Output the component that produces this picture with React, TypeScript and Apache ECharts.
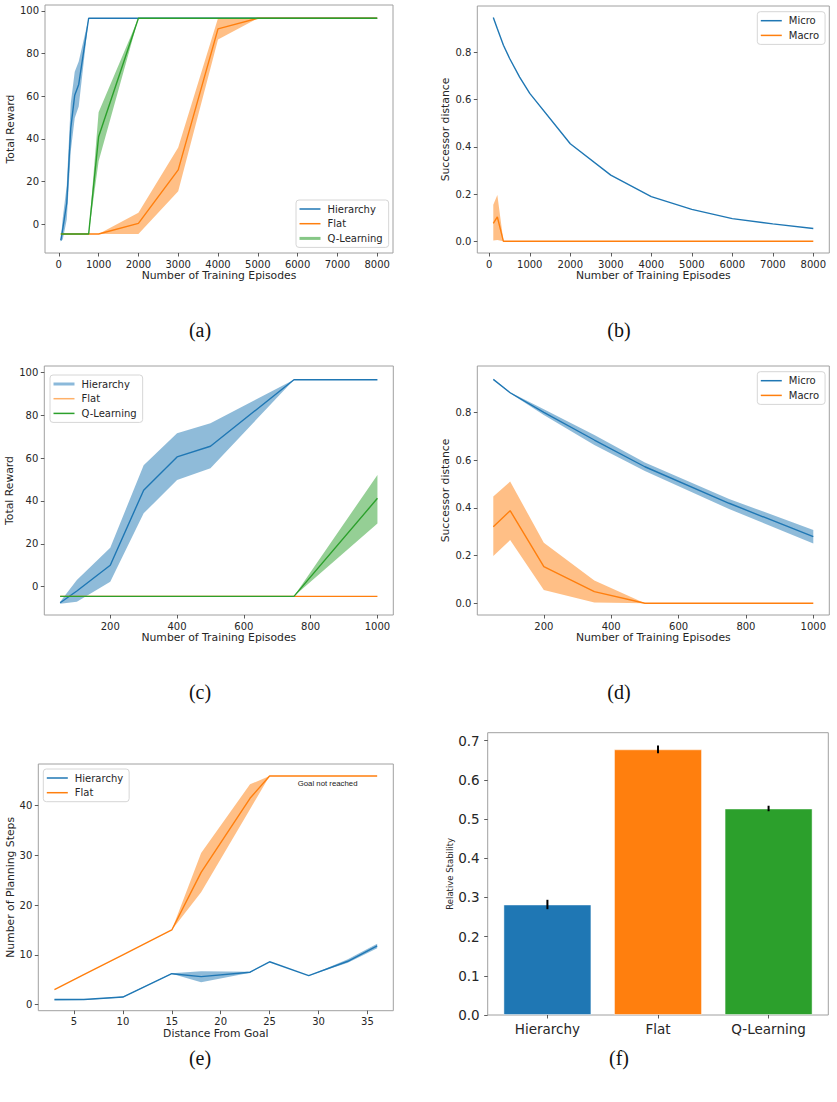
import React, { useEffect, useRef } from 'react';
import * as echarts from 'echarts';

// ---- palette ----
const BLUE = '#1f77b4';
const ORANGE = '#ff7f0e';
const GREEN = '#2ca02c';
const BLUE_FILL = 'rgba(31,119,180,0.5)';
const ORANGE_FILL = 'rgba(255,127,14,0.5)';
const GREEN_FILL = 'rgba(44,160,44,0.5)';

// ---- (a) total reward, long training ----
const aEpisodes = [50, 100, 200, 300, 400, 500, 750, 1000, 2000, 3000, 4000, 5000, 6000, 7000, 8000];
const aHier = [-7.5, -2, 10, 45, 60.5, 65.5, 96.5, 96.5, 96.5, 96.5, 96.5, 96.5, 96.5, 96.5, 96.5];
const aHierLo = [-8, -7, 2.3, 34.2, 49.8, 55.2, 96.5, 96.5, 96.5, 96.5, 96.5, 96.5, 96.5, 96.5, 96.5];
const aHierHi = [-7, 3.1, 18.2, 56.6, 71.5, 76.2, 96.5, 96.5, 96.5, 96.5, 96.5, 96.5, 96.5, 96.5, 96.5];
const aFlat = [-4.5, -4.5, -4.5, -4.5, -4.5, -4.5, -4.5, -4.5, 0.5, 25.5, 91.5, 96.5, 96.5, 96.5, 96.5];
const aFlatLo = [-4.5, -4.5, -4.5, -4.5, -4.5, -4.5, -4.5, -4.5, -4.5, 15.5, 86.5, 96.5, 96.5, 96.5, 96.5];
const aFlatHi = [-4.5, -4.5, -4.5, -4.5, -4.5, -4.5, -4.5, -4.5, 5.5, 36, 96.5, 96.5, 96.5, 96.5, 96.5];
const aQ = [-4.5, -4.5, -4.5, -4.5, -4.5, -4.5, -4.5, 41, 96.5, 96.5, 96.5, 96.5, 96.5, 96.5, 96.5];
const aQLo = [-4.5, -4.5, -4.5, -4.5, -4.5, -4.5, -4.5, 29.5, 96.5, 96.5, 96.5, 96.5, 96.5, 96.5, 96.5];
const aQHi = [-4.5, -4.5, -4.5, -4.5, -4.5, -4.5, -4.5, 52.5, 96.5, 96.5, 96.5, 96.5, 96.5, 96.5, 96.5];

// ---- (b) successor distance, long training ----
const bEpisodes = [100, 200, 350, 500, 750, 1000, 2000, 3000, 4000, 5000, 6000, 7000, 8000];
const bMicro = [0.947, 0.9, 0.83, 0.775, 0.695, 0.626, 0.413, 0.28, 0.189, 0.135, 0.096, 0.074, 0.054];
const bMacro = [0.076, 0.103, 0, 0, 0, 0, 0, 0, 0, 0, 0, 0, 0];
const bMacroLo = [0.003, 0.005, 0, 0, 0, 0, 0, 0, 0, 0, 0, 0, 0];
const bMacroHi = [0.155, 0.196, 0, 0, 0, 0, 0, 0, 0, 0, 0, 0, 0];

// ---- (c) total reward, short training ----
const cEpisodes = [50, 100, 200, 300, 400, 500, 750, 1000];
const cHier = [-7.5, -2, 10, 45, 60.5, 65.5, 96.5, 96.5];
const cHierLo = [-8, -7, 2.3, 34.2, 49.8, 55.2, 96.5, 96.5];
const cHierHi = [-7, 3.1, 18.2, 56.6, 71.5, 76.2, 96.5, 96.5];
const cFlat = [-4.5, -4.5, -4.5, -4.5, -4.5, -4.5, -4.5, -4.5];
const cQ = [-4.5, -4.5, -4.5, -4.5, -4.5, -4.5, -4.5, 41.2];
const cQLo = [-4.5, -4.5, -4.5, -4.5, -4.5, -4.5, -4.5, 29.5];
const cQHi = [-4.5, -4.5, -4.5, -4.5, -4.5, -4.5, -4.5, 52.1];

// ---- (d) successor distance, short training ----
const dEpisodes = [50, 100, 200, 350, 500, 750, 1000];
const dMicro = [0.938, 0.882, 0.8, 0.684, 0.572, 0.419, 0.279];
const dMicroLo = [0.938, 0.88, 0.789, 0.663, 0.554, 0.395, 0.25];
const dMicroHi = [0.938, 0.884, 0.813, 0.705, 0.59, 0.437, 0.307];
const dMacro = [0.321, 0.388, 0.154, 0.049, 0, 0, 0];
const dMacroLo = [0.198, 0.265, 0.056, 0.003, 0, 0, 0];
const dMacroHi = [0.447, 0.51, 0.254, 0.095, 0, 0, 0];

// ---- (e) planning steps vs distance ----
const eDistance = [3, 6, 10, 15, 18, 23, 25, 29, 33, 36];
const eHier = [1, 1, 1.5, 6.2, 5.6, 6.5, 8.6, 5.8, 8.7, 11.8];
const eHierLo = [0.8, 0.9, 1.4, 6.2, 4.5, 6.4, 8.6, 5.8, 8.4, 11.3];
const eHierHi = [1.0, 1.0, 1.6, 6.3, 6.7, 6.6, 8.6, 5.8, 9.1, 12.2];
const eFlat = [3, 6, 10, 15, 26.6, 41.5, 46, 46, 46, 46];
const eFlatLo = [3, 6, 10, 15, 22.6, 39.3, 46, 46, 46, 46];
const eFlatHi = [3, 6, 10, 15, 30.5, 44.3, 46, 46, 46, 46];

// ---- (f) relative stability ----
const fMethods = ['Hierarchy', 'Flat', 'Q-Learning'];
const fStability = [0.282, 0.678, 0.527];
const fError = [0.012, 0.01, 0.007];
const fColors = [BLUE, ORANGE, GREEN];

// ---- tick labels ----
const ticksEpisodesLong = [0, 1000, 2000, 3000, 4000, 5000, 6000, 7000, 8000];
const ticksEpisodesShort = [200, 400, 600, 800, 1000];
const ticksReward = [0, 20, 40, 60, 80, 100];
const ticksDistance = [0, 0.2, 0.4, 0.6, 0.8];
const ticksGoal = [5, 10, 15, 20, 25, 30, 35];
const ticksSteps = [0, 10, 20, 30, 40];
const ticksStability = [0, 0.1, 0.2, 0.3, 0.4, 0.5, 0.6, 0.7];

const FONT = 'DejaVu Sans';
const INK = '#262626';
const FRAME = '#a0a0a0';

// legend handles drawn in a 21x6 box; the lone move-to points keep the box size fixed
const THIN_HANDLE = 'path://M0,0M0,2.25L21,2.25L21,3.75L0,3.75ZM21,6';
const THICK_HANDLE = 'path://M0,0M0,1.5L21,1.5L21,4.5L0,4.5ZM21,6';

const grids = [
  { left: 45, top: 5, width: 348, height: 248 },
  { left: 477.3, top: 6, width: 352, height: 247 },
  { left: 44.3, top: 366, width: 349, height: 249 },
  { left: 477.3, top: 366, width: 352, height: 249 },
  { left: 38.3, top: 764, width: 355, height: 246.7 },
  { left: 487.7, top: 732.7, width: 340.6, height: 282.3 },
].map((g) => ({ ...g, show: true, borderColor: FRAME, borderWidth: 1, outerBoundsMode: 'none', containLabel: false }));

function axis(
  gridIndex: number,
  min: number,
  max: number,
  ticks: number[],
  name: string,
  nameGap: number,
  opts: { fmt?: (v: number) => string; labelSize?: number; nameSize?: number; margin?: number } = {}
) {
  return {
    type: 'value',
    gridIndex,
    min,
    max,
    name,
    nameLocation: 'middle',
    nameGap,
    nameTextStyle: { fontFamily: FONT, fontSize: opts.nameSize ?? 10.8, color: INK },
    axisLine: { show: false, onZero: false },
    splitLine: { show: false },
    axisTick: { show: true, length: 3.5, customValues: ticks, lineStyle: { color: '#333', width: 0.8 } },
    axisLabel: {
      customValues: ticks,
      formatter: opts.fmt ?? ((v: number) => String(v)),
      fontFamily: FONT,
      fontSize: opts.labelSize ?? 10,
      color: INK,
      margin: opts.margin ?? 6,
    },
  };
}

const oneDecimal = (v: number) => v.toFixed(1);

function line(name: string, gi: number, xs: number[], ys: number[], color: string) {
  return {
    type: 'line',
    name,
    xAxisIndex: gi,
    yAxisIndex: gi,
    data: xs.map((x, i) => [x, ys[i]]),
    symbol: 'none',
    lineStyle: { color, width: 1.4 },
    itemStyle: { color },
    z: 3,
    silent: true,
  };
}

function band(gi: number, xs: number[], lo: number[], hi: number[], fill: string) {
  return {
    type: 'custom',
    xAxisIndex: gi,
    yAxisIndex: gi,
    z: 1,
    silent: true,
    data: xs.map((x, i) => [x, lo[i], hi[i]]),
    encode: { x: 0, y: [1, 2] },
    renderItem: (params: any, api: any) => {
      if (params.dataIndex !== 0) return null;
      const top = xs.map((x, i) => api.coord([x, hi[i]]));
      const bottom = xs.map((x, i) => api.coord([x, lo[i]])).reverse();
      return { type: 'polygon', shape: { points: top.concat(bottom) }, style: { fill: fill, stroke: 'none' } };
    },
  };
}

function handle(name: string, color: string, thick = false) {
  return { name, icon: thick ? THICK_HANDLE : THIN_HANDLE, itemStyle: { color } };
}

function legend(left: number, top: number, items: any[]) {
  return {
    orient: 'vertical',
    left,
    top,
    data: items,
    itemWidth: 21,
    itemHeight: 6,
    itemGap: 2.7,
    padding: [3, 6, 3, 3.5],
    borderColor: '#d6d6d6',
    borderWidth: 1,
    borderRadius: 3,
    backgroundColor: 'rgba(255,255,255,0.8)',
    selectedMode: false,
    textStyle: { fontFamily: FONT, fontSize: 10, color: INK, lineHeight: 12, padding: [0, 0, 0, 2] },
  };
}

function panelLabel(text: string, x: number, y: number) {
  return {
    type: 'text',
    x,
    y,
    style: { text, fontFamily: 'Liberation Serif', fontSize: 20, fill: '#111', align: 'center', verticalAlign: 'middle' },
  };
}

function buildOption(): any {
  return {
    animation: false,
    grid: grids,
    xAxis: [
      axis(0, -347, 8397, ticksEpisodesLong, 'Number of Training Episodes', 15),
      axis(1, -295, 8395, ticksEpisodesLong, 'Number of Training Episodes', 15),
      axis(2, 2.5, 1047.5, ticksEpisodesShort, 'Number of Training Episodes', 15),
      axis(3, 2.5, 1047.5, ticksEpisodesShort, 'Number of Training Episodes', 15),
      axis(4, 1.35, 37.65, ticksGoal, 'Distance From Goal', 15),
      axis(5, -0.54, 2.54, [0, 1, 2], '', 0, {
        fmt: (v: number) => fMethods[Math.round(v)] ?? '',
        labelSize: 13.5,
        margin: 7,
      }),
    ],
    yAxis: [
      axis(0, -13.4, 102.7, ticksReward, 'Total Reward', 28),
      axis(1, -0.0495, 0.996, ticksDistance, 'Successor distance', 24, { fmt: oneDecimal }),
      axis(2, -13.2, 102.9, ticksReward, 'Total Reward', 27.6),
      axis(3, -0.049, 0.994, ticksDistance, 'Successor distance', 24, { fmt: oneDecimal }),
      axis(4, -1.25, 48.4, ticksSteps, 'Number of Planning Steps', 21.6),
      axis(5, 0, 0.7204, ticksStability, 'Relative Stability', 33.7, {
        fmt: oneDecimal,
        labelSize: 13.5,
        nameSize: 8.5,
        margin: 8,
      }),
    ],
    legend: [
      legend(296, 200, [handle('Hierarchy', BLUE), handle('Flat', ORANGE), handle('Q-Learning', '#86c786', true)]),
      legend(757.3, 11.7, [handle('Micro', BLUE), handle('Macro', ORANGE)]),
      legend(50, 375, [handle('Hierarchy', '#8bb9da', true), handle('Flat', '#ffb169'), handle('Q-Learning', GREEN)]),
      legend(757.3, 371.7, [handle('Micro', BLUE), handle('Macro', ORANGE)]),
      legend(43.3, 769, [handle('Hierarchy', BLUE), handle('Flat', ORANGE)]),
    ],
    series: [
      // (a)
      band(0, aEpisodes, aHierLo, aHierHi, BLUE_FILL),
      band(0, aEpisodes, aFlatLo, aFlatHi, ORANGE_FILL),
      band(0, aEpisodes, aQLo, aQHi, GREEN_FILL),
      line('Hierarchy', 0, aEpisodes, aHier, BLUE),
      line('Flat', 0, aEpisodes, aFlat, ORANGE),
      line('Q-Learning', 0, aEpisodes, aQ, GREEN),
      // (b)
      band(1, bEpisodes, bMacroLo, bMacroHi, ORANGE_FILL),
      line('Micro', 1, bEpisodes, bMicro, BLUE),
      line('Macro', 1, bEpisodes, bMacro, ORANGE),
      // (c)
      band(2, cEpisodes, cHierLo, cHierHi, BLUE_FILL),
      band(2, cEpisodes, cQLo, cQHi, GREEN_FILL),
      line('Hierarchy', 2, cEpisodes, cHier, BLUE),
      line('Flat', 2, cEpisodes, cFlat, ORANGE),
      line('Q-Learning', 2, cEpisodes, cQ, GREEN),
      // (d)
      band(3, dEpisodes, dMicroLo, dMicroHi, BLUE_FILL),
      band(3, dEpisodes, dMacroLo, dMacroHi, ORANGE_FILL),
      line('Micro', 3, dEpisodes, dMicro, BLUE),
      line('Macro', 3, dEpisodes, dMacro, ORANGE),
      // (e)
      band(4, eDistance, eHierLo, eHierHi, BLUE_FILL),
      band(4, eDistance, eFlatLo, eFlatHi, ORANGE_FILL),
      line('Hierarchy', 4, eDistance, eHier, BLUE),
      line('Flat', 4, eDistance, eFlat, ORANGE),
      // (f)
      {
        type: 'bar',
        name: 'Relative Stability',
        xAxisIndex: 5,
        yAxisIndex: 5,
        barWidth: 88,
        silent: true,
        data: fStability.map((v, i) => ({
          value: [i, v],
          itemStyle: { color: fColors[i], borderColor: 'rgba(255,255,255,0.45)', borderWidth: 1 },
        })),
      },
      {
        type: 'custom',
        xAxisIndex: 5,
        yAxisIndex: 5,
        z: 4,
        silent: true,
        data: fStability.map((v, i) => [i, v - fError[i], v + fError[i]]),
        encode: { x: 0, y: [1, 2] },
        renderItem: (params: any, api: any) => {
          const lo = api.coord([api.value(0), api.value(1)]);
          const hi = api.coord([api.value(0), api.value(2)]);
          return {
            type: 'line',
            shape: { x1: lo[0], y1: lo[1], x2: hi[0], y2: hi[1] },
            style: { stroke: '#000', lineWidth: 2 },
          };
        },
      },
    ],
    graphic: [
      panelLabel('(a)', 200, 330),
      panelLabel('(b)', 619, 330),
      panelLabel('(c)', 200, 692),
      panelLabel('(d)', 619, 692),
      panelLabel('(e)', 200, 1058),
      panelLabel('(f)', 619, 1058),
      {
        type: 'text',
        x: 297.7,
        y: 783,
        style: {
          text: 'Goal not reached',
          fontFamily: 'Liberation Sans',
          fontSize: 7.8,
          fill: '#222',
          verticalAlign: 'middle',
        },
      },
    ],
  };
}

export default function App() {
  const ref = useRef<HTMLDivElement>(null);
  useEffect(() => {
    const chart = echarts.init(ref.current!, null, { renderer: 'svg' });
    chart.setOption(buildOption());
    return () => chart.dispose();
  }, []);
  return <div ref={ref} style={{ position: 'absolute', left: 0, top: 0, width: 837, height: 1102 }} />;
}
